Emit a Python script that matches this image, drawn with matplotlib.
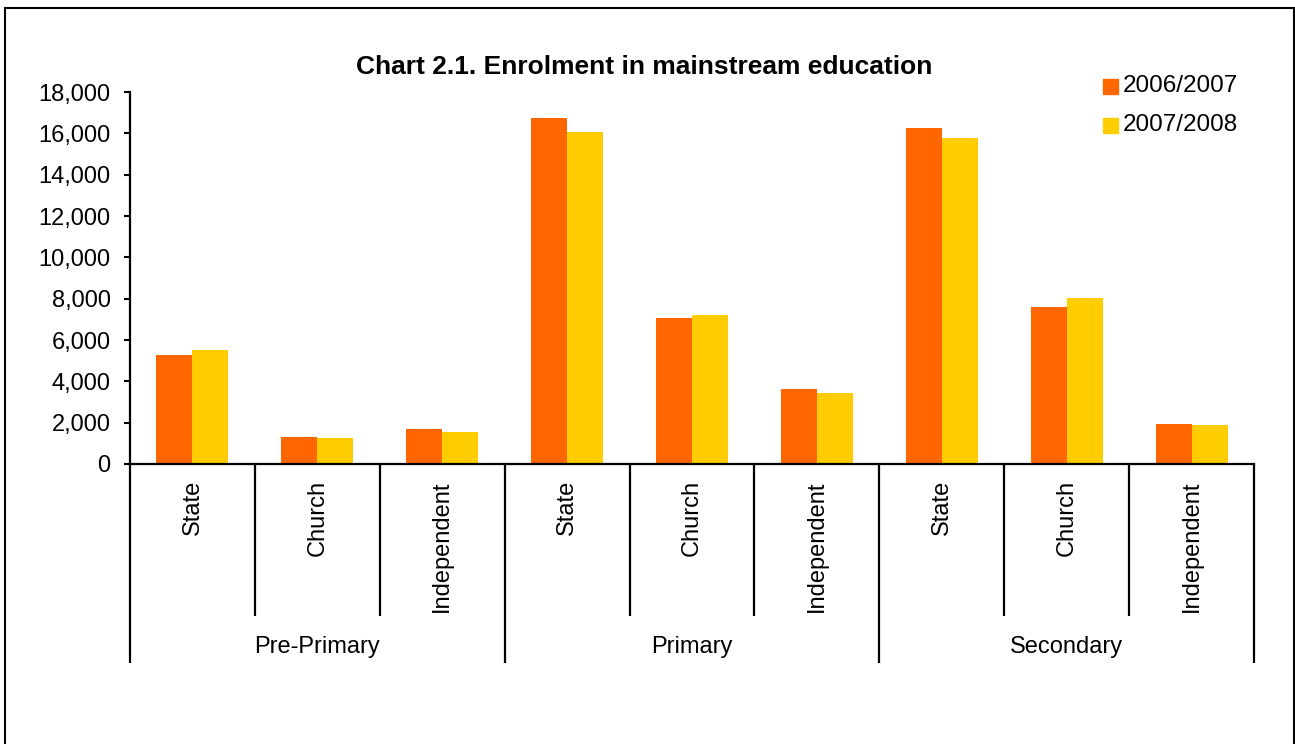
import matplotlib
matplotlib.use("Agg")
import matplotlib.pyplot as plt
import matplotlib.transforms as mtransforms
from matplotlib.patches import Rectangle
from matplotlib.ticker import FuncFormatter

plt.rcParams['font.family'] = ['Liberation Sans', 'DejaVu Sans']

groups = ["Pre-Primary", "Primary", "Secondary"]
subcats = ["State", "Church", "Independent"]
series_names = ["2006/2007", "2007/2008"]
vals_2006 = [5280, 1310, 1690, 16740, 7070, 3630, 16270, 7600, 1940]
vals_2007 = [5520, 1260, 1550, 16080, 7220, 3440, 15790, 8040, 1890]
colors = ["#FF6600", "#FFCC00"]
yticks = list(range(0, 18001, 2000))

FS = 17

W, H = 1295, 744
fig = plt.figure(figsize=(W / 100, H / 100), dpi=100)
ax = fig.add_axes([130 / W, 1 - 464 / H, (1254 - 130) / W, (464 - 92) / H])

n = len(vals_2006)
xs = list(range(n))
bw = 0.288
ax.bar([x - bw / 2 for x in xs], vals_2006, width=bw, color=colors[0], label=series_names[0], zorder=2)
ax.bar([x + bw / 2 for x in xs], vals_2007, width=bw, color=colors[1], label=series_names[1], zorder=2)

ax.set_xlim(-0.5, n - 0.5)
ax.set_ylim(0, 18000)
ax.set_yticks(yticks)
ax.yaxis.set_major_formatter(FuncFormatter(lambda v, p: f"{int(v):,}"))
ax.tick_params(axis='y', direction='out', length=4, width=1.5, labelsize=FS, pad=10)
ax.set_xticks([])
for s in ['top', 'right']:
    ax.spines[s].set_visible(False)
for s in ['left', 'bottom']:
    ax.spines[s].set_linewidth(1.6)

trans = mtransforms.blended_transform_factory(ax.transData, ax.transAxes)
inner_bottom = (464 - 616) / 372
outer_bottom = (464 - 663) / 372
for i in range(n + 1):
    b = -0.5 + i
    yb = outer_bottom if i % 3 == 0 else inner_bottom
    ax.plot([b, b], [0, yb], transform=trans, color='black', lw=1.6, clip_on=False, solid_capstyle='butt')

for i in range(n):
    ax.text(i, (464 - 480) / 372, subcats[i % 3], transform=trans, rotation=90,
            ha='center', va='top', fontsize=FS)
for g, name in enumerate(groups):
    ax.text(3 * g + 1, (464 - 647) / 372, name, transform=trans, ha='center', va='center', fontsize=FS)

fig.text(644 / W, 1 - 67 / H, "Chart 2.1. Enrolment in mainstream education", ha='center', va='center',
         fontsize=19, fontweight='bold')

# legend
for k, name in enumerate(series_names):
    yc = 86 + k * 39
    fig.patches.append(Rectangle((1103 / W, 1 - (yc + 7.5) / H), 15 / W, 15 / H,
                                 transform=fig.transFigure, color=colors[k]))
    fig.text(1123 / W, 1 - yc / H, name, ha='left', va='center', fontsize=17.5)

# figure border
fig.patches.append(Rectangle((4.5 / W, -0.05), (1293.5 - 4.5) / W, 1 - 7.5 / H + 0.05,
                             transform=fig.transFigure, fill=False, edgecolor='black', lw=1.5))

fig.savefig("out.png", dpi=100)
